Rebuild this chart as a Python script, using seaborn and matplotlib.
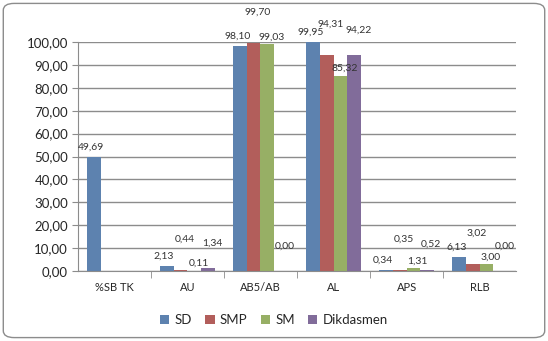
import pandas as pd
import matplotlib.pyplot as plt
import matplotlib.ticker as mticker
from matplotlib.patches import FancyBboxPatch
import seaborn as sns

categories = ['%SB TK', 'AU', 'AB5/AB', 'AL', 'APS', 'RLB']
series = ['SD', 'SMP', 'SM', 'Dikdasmen']
sd = [49.69, 2.13, 98.10, 99.95, 0.34, 6.13]
smp = [None, 0.44, 99.70, 94.31, 0.35, 3.02]
sm = [None, 0.11, 99.03, 85.32, 1.31, 3.00]
dikdasmen = [None, 1.34, 0.00, 94.22, 0.52, 0.00]

colors = ['#4F81BD', '#C0504D', '#9BBB59', '#8064A2']
# label offsets (points) per series, imitating the Excel 3D label spots
label_offsets = {'SD': (-2, 4), 'SMP': (3, 19), 'SM': (3, 2), 'Dikdasmen': (3, 15)}

rows = []
for name, vals in zip(series, [sd, smp, sm, dikdasmen]):
    for cat, v in zip(categories, vals):
        if v is not None:
            rows.append({'cat': cat, 'series': name, 'value': v})
df = pd.DataFrame(rows)

sns.set_style('white')
plt.rcParams['font.family'] = ['Lato', 'DejaVu Sans']

fig = plt.figure(figsize=(5.48, 3.41), dpi=100)
ax = fig.add_axes([0.142, 0.205, 0.80, 0.672])

sns.barplot(data=df, x='cat', y='value', hue='series', order=categories,
            hue_order=series, palette=colors, width=0.75, ax=ax,
            edgecolor='none', legend=True)

ax.set_ylim(0, 100)
ax.set_xlim(-0.5, len(categories) - 0.5)
ax.set_yticks(range(0, 101, 10))
ax.yaxis.set_major_formatter(mticker.FuncFormatter(lambda v, p: f'{v:.2f}'.replace('.', ',')))
ax.grid(axis='y', color='#8c8c8c', linewidth=1.0)
ax.set_axisbelow(True)
ax.set_xlabel('')
ax.set_ylabel('')
for s in ['top', 'right']:
    ax.spines[s].set_visible(False)
ax.spines['left'].set_color('#8c8c8c')
ax.spines['bottom'].set_color('#8c8c8c')
ax.tick_params(axis='y', labelsize=9.5, length=4, color='#8c8c8c', left=True, pad=3)
ax.tick_params(axis='x', labelsize=8, length=0, pad=8)
ax.set_xticks([i + 0.5 for i in range(len(categories) - 1)], minor=True)
ax.tick_params(axis='x', which='minor', length=5, color='#8c8c8c', bottom=True)

for name, cont in zip(series, ax.containers):
    dx, dy = label_offsets[name]
    for bar in cont:
        h = bar.get_height()
        if pd.isna(h):
            continue
        ax.annotate(f'{h:.2f}'.replace('.', ','),
                    (bar.get_x() + bar.get_width() / 2, h),
                    xytext=(dx, dy), textcoords='offset points',
                    ha='center', va='bottom', fontsize=7.5, color='#333333',
                    annotation_clip=False)

handles, labels = ax.get_legend_handles_labels()
ax.legend(handles, labels, loc='center', ncol=4, frameon=False, fontsize=9.5,
          handlelength=0.7, handleheight=0.7, handletextpad=0.4, columnspacing=1.0,
          bbox_to_anchor=(0.5, 0.062), bbox_transform=fig.transFigure)

fig.patches.append(FancyBboxPatch((0.006, 0.01), 0.988, 0.98,
                                  boxstyle='round,pad=0,rounding_size=0.02',
                                  transform=fig.transFigure, fill=False,
                                  edgecolor='#8c8c8c', linewidth=1.0))

fig.savefig('out.png', dpi=100)
